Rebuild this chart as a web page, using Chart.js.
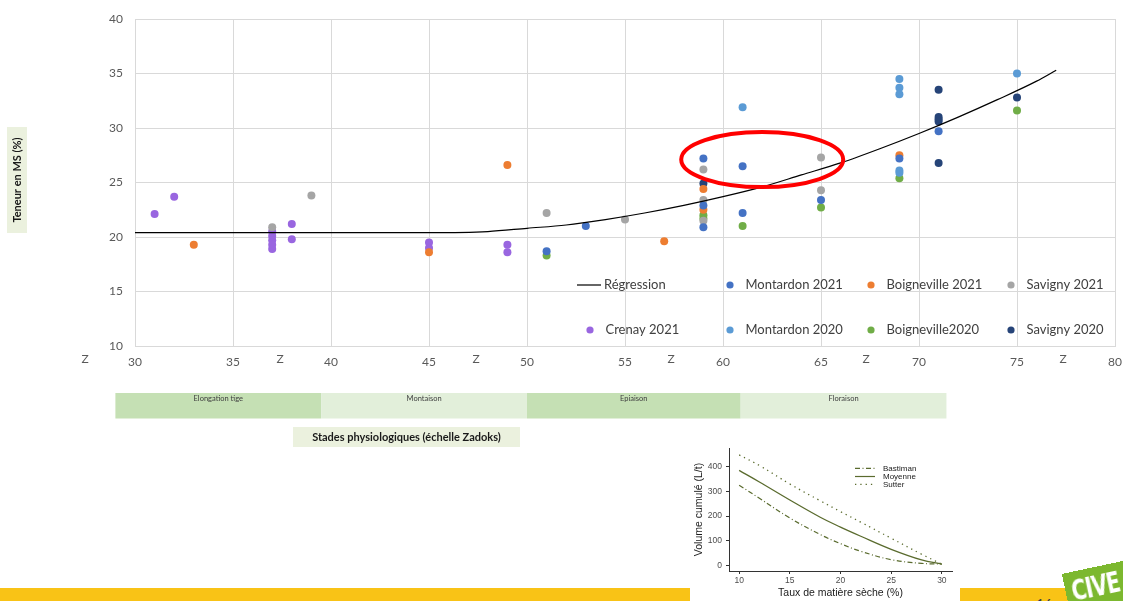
<!DOCTYPE html>
<html>
<head>
<meta charset="utf-8">
<script src="https://cdn.jsdelivr.net/npm/chart.js@4.4.0/dist/chart.umd.min.js"></script>
<style>
  html, body { margin: 0; padding: 0; width: 1123px; height: 601px; overflow: hidden; background: #fff; }
  #bar { position: absolute; left: 0; top: 588px; width: 1123px; height: 13px; background: #f9c316; }
  #main { position: absolute; left: 0; top: 0; }
  #inset { position: absolute; left: 690px; top: 440px; width: 270px; height: 161px; background: #fff; }
  #page { position: absolute; left: 1036px; top: 595px; font: 14px Lato, sans-serif; color: #404040; }
  #logo { position: absolute; left: 1066px; top: 567px; width: 62px; height: 46px; background: #7cb82f;
          transform: rotate(-12deg); overflow: hidden; }
  #logo span { display: block; color: #fff; font: bold 28px "Liberation Sans Narrow", "DejaVu Sans Condensed", sans-serif;
               transform: scaleX(0.8); transform-origin: 6px 0; padding-left: 6px; line-height: 40px; letter-spacing: -1px; }
</style>
</head>
<body>
<div id="bar"></div>
<div id="page">16</div>
<canvas id="main" width="1123" height="601"></canvas>
<div id="inset"><canvas id="insetChart" width="270" height="161"></canvas></div>
<div id="logo"><span>CIVE</span></div>

<script>
//*************** data *****************************************

// regression curve (Zadoks stage, % DM)
var regX = [30, 35, 40, 45, 48, 50, 52, 54, 56, 58, 60, 62, 64, 66, 68, 70, 72, 74, 76, 77];
var regY = [20.4, 20.4, 20.4, 20.4, 20.5, 20.8, 21.1, 21.6, 22.2, 22.9, 23.7, 24.6, 25.7, 26.8, 28.1, 29.5, 31.0, 32.6, 34.3, 35.3];

// [stage, % DM] per site
var montardon2021 = [[51, 18.7], [53, 21.0], [59, 27.2], [59, 22.9], [59, 20.9], [61, 26.5], [61, 22.2], [65, 23.4], [69, 27.2], [71, 29.7]];
var boigneville2021 = [[33, 19.3], [45, 18.6], [49, 26.6], [57, 19.6], [59, 24.4], [59, 22.5], [69, 27.5]];
var savigny2021 = [[37, 20.9], [39, 23.8], [51, 22.2], [55, 21.6], [59, 26.2], [59, 23.4], [59, 21.5], [65, 27.3], [65, 24.3]];
var crenay2021 = [[31, 22.1], [32, 23.7], [37, 20.5], [37, 20.1], [37, 19.7], [37, 19.3], [37, 18.9], [38, 21.2], [38, 19.8],
                  [45, 19.5], [45, 19.0], [49, 19.3], [49, 18.6]];
var montardon2020 = [[61, 31.9], [69, 34.5], [69, 33.7], [69, 33.1], [69, 26.1], [69, 25.9], [75, 35.0]];
var boigneville2020 = [[51, 18.3], [59, 22.0], [59, 21.7], [61, 21.0], [65, 22.7], [69, 25.4], [75, 31.6]];
var savigny2020 = [[59, 24.9], [71, 33.5], [71, 31.0], [71, 30.8], [71, 30.6], [71, 26.8], [75, 32.8]];

// extra "Z" labels on the x axis and the growth stages
var zPositions = [27.45, 37.4, 47.4, 57.35, 67.3, 77.35];
var stageNames = ["Elongation tige", "Montaison", "Epiaison", "Floraison"];
var stageBounds = [29, 39.5, 50, 60.9, 71.4];

// inset : cumulated volume vs dry matter
var dmX = [10, 12, 15, 18, 20, 22, 25, 28, 30];
var bastiman = [325, 272, 192, 125, 88, 57, 23, 8, 5];
var moyenne = [385, 338, 265, 195, 155, 118, 65, 22, 5];
var sutter = [448, 405, 330, 262, 218, 175, 110, 45, 5];
var insetXTicks = [10, 15, 20, 25, 30];
var insetYTicks = [0, 100, 200, 300, 400];

// ************************************************************ //

Chart.defaults.font.family = "Lato";

function toPoints(list) {
  return list.map(function (p) { return { x: p[0], y: p[1] }; });
}

function pairs(xs, ys) {
  return xs.map(function (x, i) { return { x: x, y: ys[i] }; });
}

function scatterSet(label, list, color) {
  return {
    label: label,
    data: toPoints(list),
    backgroundColor: color,
    borderColor: color,
    borderWidth: 0,
    pointRadius: 4,
    pointHoverRadius: 4
  };
}

// slide decorations : legend, Z labels, stage bands, titles, red circle
var slideDecor = {
  id: "slideDecor",
  afterDraw: function (chart) {
    var ctx = chart.ctx;
    var xs = chart.scales.x;
    var ys = chart.scales.y;
    ctx.save();

    // Z labels
    ctx.font = "12px Lato";
    ctx.fillStyle = "#595959";
    ctx.textAlign = "center";
    ctx.textBaseline = "middle";
    zPositions.forEach(function (v) {
      ctx.fillText("Z", xs.getPixelForValue(v), 359);
    });

    // legend in 2 rows of 4
    var cols = [590, 730, 871, 1011];
    var rows = [285, 330];
    ctx.font = "13px Lato";
    ctx.textAlign = "left";
    chart.data.datasets.forEach(function (ds, i) {
      var cx = cols[i % 4];
      var cy = rows[Math.floor(i / 4)];
      if (ds.showLine) {
        ctx.strokeStyle = ds.borderColor;
        ctx.lineWidth = 1.2;
        ctx.beginPath();
        ctx.moveTo(577, cy);
        ctx.lineTo(601, cy);
        ctx.stroke();
        ctx.fillStyle = "#404040";
        ctx.fillText(ds.label, 604, cy);
      } else {
        ctx.fillStyle = ds.backgroundColor;
        ctx.beginPath();
        ctx.arc(cx, cy, 3.6, 0, Math.PI * 2);
        ctx.fill();
        ctx.fillStyle = "#404040";
        ctx.fillText(ds.label, cx + 15.5, cy);
      }
    });

    // y axis title
    ctx.fillStyle = "#ebf1de";
    ctx.fillRect(7, 127, 20, 106);
    ctx.translate(17, 180);
    ctx.rotate(-Math.PI / 2);
    ctx.font = "bold 11px Lato";
    ctx.fillStyle = "#1a1a1a";
    ctx.textAlign = "center";
    ctx.fillText("Teneur en MS (%)", 0, 0);
    ctx.setTransform(1, 0, 0, 1, 0, 0);

    // growth stage bands
    for (var i = 0; i < stageNames.length; i++) {
      var x0 = xs.getPixelForValue(stageBounds[i]);
      var x1 = xs.getPixelForValue(stageBounds[i + 1]);
      ctx.fillStyle = (i % 2 === 0) ? "#c5e0b4" : "#e2efda";
      ctx.fillRect(x0, 393, x1 - x0, 25.5);
      ctx.fillStyle = "#404040";
      ctx.font = "7.5px Lato";
      ctx.fillText(stageNames[i], (x0 + x1) / 2, 399);
    }

    // stages caption
    ctx.fillStyle = "#ebf1de";
    ctx.fillRect(293, 427, 227, 20);
    ctx.fillStyle = "#1a1a1a";
    ctx.font = "bold 11px Lato";
    ctx.fillText("Stades physiologiques (échelle Zadoks)", 406.5, 437);

    // red circle
    ctx.strokeStyle = "#ff0000";
    ctx.lineWidth = 4;
    ctx.beginPath();
    ctx.ellipse(xs.getPixelForValue(62.0), ys.getPixelForValue(27.1), 81, 27.5, 0, 0, Math.PI * 2);
    ctx.stroke();

    ctx.restore();
  }
};

var mainChart = new Chart(document.getElementById("main"), {
  type: "scatter",
  data: {
    datasets: [
      {
        label: "Régression",
        data: pairs(regX, regY),
        showLine: true,
        borderColor: "#000000",
        borderWidth: 1.2,
        pointRadius: 0,
        pointHoverRadius: 0,
        cubicInterpolationMode: "monotone",
        fill: false
      },
      scatterSet("Montardon 2021", montardon2021, "#4472c4"),
      scatterSet("Boigneville 2021", boigneville2021, "#ed7d31"),
      scatterSet("Savigny 2021", savigny2021, "#a5a5a5"),
      scatterSet("Crenay 2021", crenay2021, "#9966e0"),
      scatterSet("Montardon 2020", montardon2020, "#5b9bd5"),
      scatterSet("Boigneville2020", boigneville2020, "#70ad47"),
      scatterSet("Savigny 2020", savigny2020, "#264478")
    ]
  },
  options: {
    responsive: false,
    animation: false,
    layout: { padding: { left: 0, top: 19, right: 8, bottom: 0 } },
    plugins: { legend: { display: false }, tooltip: { enabled: false } },
    scales: {
      x: {
        type: "linear",
        min: 30,
        max: 80,
        afterFit: function (s) { s.height = 255; s.paddingLeft = 0; s.paddingRight = 0; },
        grid: { color: "#d9d9d9", drawTicks: false },
        border: { color: "#d9d9d9" },
        ticks: { stepSize: 5, autoSkip: false, maxRotation: 0, padding: 9, color: "#595959", font: { size: 12 } }
      },
      y: {
        min: 10,
        max: 40,
        afterFit: function (s) { s.width = 135; s.paddingTop = 0; s.paddingBottom = 0; },
        grid: { color: "#d9d9d9", drawTicks: false },
        border: { color: "#d9d9d9" },
        ticks: { stepSize: 5, padding: 12, color: "#595959", font: { size: 12 } }
      }
    }
  },
  plugins: [slideDecor]
});

// ******************** inset chart ************************ //

var insetLegend = {
  id: "insetLegend",
  afterDraw: function (chart) {
    var ctx = chart.ctx;
    var rows = [28.3, 36.5, 44.3];
    ctx.save();
    ctx.font = "8px 'Liberation Sans'";
    ctx.textBaseline = "middle";
    chart.data.datasets.forEach(function (ds, i) {
      ctx.strokeStyle = ds.borderColor;
      ctx.lineWidth = 1.2;
      ctx.setLineDash(ds.borderDash || []);
      ctx.beginPath();
      ctx.moveTo(165, rows[i]);
      ctx.lineTo(185, rows[i]);
      ctx.stroke();
      ctx.fillStyle = "#1a1a1a";
      ctx.fillText(ds.label, 193, rows[i]);
    });
    ctx.restore();
  }
};

var olive = "#5a6b2e";

var insetChart = new Chart(document.getElementById("insetChart"), {
  type: "line",
  data: {
    datasets: [
      { label: "Bastiman", data: pairs(dmX, bastiman), borderColor: olive, borderWidth: 1.2, borderDash: [5, 2.5, 1, 2.5], pointRadius: 0, tension: 0.4 },
      { label: "Moyenne", data: pairs(dmX, moyenne), borderColor: olive, borderWidth: 1.3, pointRadius: 0, tension: 0.4 },
      { label: "Sutter", data: pairs(dmX, sutter), borderColor: olive, borderWidth: 1.3, borderDash: [1.3, 4], pointRadius: 0, tension: 0.4 }
    ]
  },
  options: {
    responsive: false,
    animation: false,
    layout: { padding: { left: 0, top: 8, right: 8, bottom: 0 } },
    plugins: { legend: { display: false }, tooltip: { enabled: false } },
    scales: {
      x: {
        type: "linear",
        min: 9,
        max: 31,
        afterFit: function (s) { s.height = 30; s.paddingLeft = 0; s.paddingRight = 0; },
        afterBuildTicks: function (s) { s.ticks = insetXTicks.map(function (v) { return { value: v }; }); },
        grid: { display: true, drawOnChartArea: false, drawTicks: true, tickLength: 3, color: "#333" },
        border: { color: "#333" },
        ticks: { padding: 1.5, color: "#4d4d4d", font: { family: "Liberation Sans", size: 8.5 } },
        title: { display: true, text: "Taux de matière sèche (%)", color: "#1a1a1a", font: { family: "Liberation Sans", size: 10.5 }, padding: { top: 0, bottom: 2 } }
      },
      y: {
        min: -23,
        max: 476,
        afterFit: function (s) { s.width = 39; s.paddingTop = 0; s.paddingBottom = 0; },
        afterBuildTicks: function (s) { s.ticks = insetYTicks.map(function (v) { return { value: v }; }); },
        grid: { display: true, drawOnChartArea: false, drawTicks: true, tickLength: 3, color: "#333" },
        border: { color: "#333" },
        ticks: { padding: 4, color: "#4d4d4d", font: { family: "Liberation Sans", size: 8.5 } },
        title: { display: true, text: "Volume cumulé (L/t)", color: "#1a1a1a", font: { family: "Liberation Sans", size: 10.5 }, padding: { top: 3, bottom: 0 } }
      }
    }
  },
  plugins: [insetLegend]
});
</script>
</body>
</html>
